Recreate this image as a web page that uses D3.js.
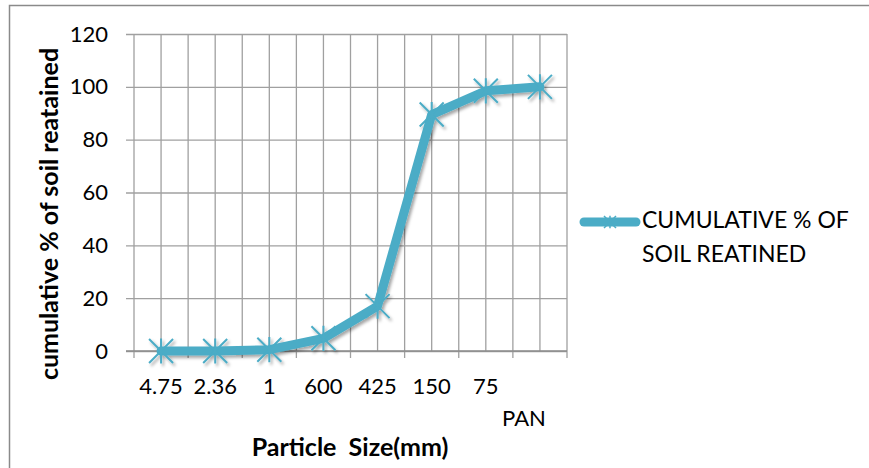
<!DOCTYPE html>
<html>
<head>
<meta charset="utf-8">
<script src="https://cdn.jsdelivr.net/npm/d3@7"></script>
<style>
  html, body { margin: 0; padding: 0; background: #fff; }
  svg { display: block; }
  text { font-family: Lato, Carlito, "Open Sans", sans-serif; fill: #000; }
</style>
</head>
<body>
<svg id="chart" width="869" height="468"></svg>
<script>
// Sieve analysis: cumulative percentage retained per sieve size
const sieveSizes = ["4.75", "2.36", "1", "600", "425", "150", "75", "PAN"];
const cumulativeRetained = [0, 0, 0.5, 4.8, 17, 89.5, 98.5, 100];
const yTicks = [0, 20, 40, 60, 80, 100, 120];
const seriesName = ["CUMULATIVE % OF", "SOIL REATINED"];
const xTitle = "Particle  Size(mm)";
const yTitle = "cumulative % of soil reatained";

const svg = d3.select("#chart");
const color = "#4BACC6";
const gridColor = "#a0a0a0";
const labelSize = "22px";

const plot = { left: 134, right: 567, top: 34, bottom: 351 };

const x = d3.scaleBand().domain(sieveSizes).range([plot.left, plot.right]).padding(0);
const y = d3.scaleLinear().domain([0, 120]).range([plot.bottom, plot.top]);
const cx = d => x(d) + x.bandwidth() / 2;

// drop shadow for the series
const defs = svg.append("defs");
const f = defs.append("filter").attr("id", "shadow")
  .attr("x", "-20%").attr("y", "-20%").attr("width", "140%").attr("height", "140%");
f.append("feDropShadow").attr("dx", 2).attr("dy", 2.5).attr("stdDeviation", 1.6)
  .attr("flood-color", "#000").attr("flood-opacity", 0.35);

// chart area frame (left and top edges)
svg.append("path")
  .attr("d", "M9.5,468 V5.5 H869")
  .attr("fill", "none").attr("stroke", "#8a8a8a").attr("stroke-width", 1.5);

// horizontal gridlines with tick stubs on the value axis
const yAxis = d3.axisLeft(y).tickValues(yTicks)
  .tickSize(-(plot.right - plot.left) - 8).tickPadding(18).tickFormat(d3.format("d"));
const gy = svg.append("g").attr("transform", `translate(${plot.right},0)`).call(yAxis);
gy.select(".domain").remove();
gy.selectAll(".tick line")
  .attr("x1", 0).attr("x2", -(plot.right - plot.left) - 8)
  .attr("stroke", gridColor).attr("stroke-width", 1.3);
gy.selectAll(".tick text")
  .attr("x", -(plot.right - plot.left) - 26)
  .style("font-size", labelSize).style("font-family", "Lato, sans-serif").attr("fill", "#000");

// vertical gridlines at category edges and centres
const gridG = svg.append("g");
const edges = sieveSizes.map(d => x(d)).concat([plot.right]);
const centres = sieveSizes.map(cx);
gridG.selectAll("line.edge").data(edges).join("line")
  .attr("x1", d => d).attr("x2", d => d)
  .attr("y1", plot.top).attr("y2", plot.bottom + 7)
  .attr("stroke", gridColor).attr("stroke-width", 1.3);
gridG.selectAll("line.mid").data(centres).join("line")
  .attr("x1", d => d).attr("x2", d => d)
  .attr("y1", plot.top).attr("y2", plot.bottom)
  .attr("stroke", gridColor).attr("stroke-width", 1.3);

// category axis line
svg.append("line")
  .attr("x1", plot.left - 8).attr("x2", plot.right)
  .attr("y1", y(0)).attr("y2", y(0))
  .attr("stroke", "#8c8c8c").attr("stroke-width", 1.5);

// category labels (the last one sits on a second line)
svg.append("g").selectAll("text").data(sieveSizes).join("text")
  .attr("x", (d, i) => cx(d) + (i === sieveSizes.length - 1 ? -16 : 0))
  .attr("y", (d, i) => i === sieveSizes.length - 1 ? 426 : 394)
  .attr("text-anchor", "middle")
  .style("font-size", labelSize)
  .text(d => d);

// series line and star markers
const series = svg.append("g").attr("filter", "url(#shadow)");
const pts = sieveSizes.map((s, i) => [cx(s), y(cumulativeRetained[i])]);
series.append("path")
  .attr("d", d3.line()(pts))
  .attr("fill", "none").attr("stroke", color)
  .attr("stroke-width", 9).attr("stroke-linejoin", "round").attr("stroke-linecap", "round");

const star = (r) => `M${-r},${-r}L${r},${r}M${-r},${r}L${r},${-r}M0,${-r * 1.05}L0,${r * 1.05}`;
series.selectAll("path.marker").data(pts).join("path")
  .attr("class", "marker")
  .attr("transform", d => `translate(${d[0]},${d[1]})`)
  .attr("d", star(12))
  .attr("fill", "none").attr("stroke", color).attr("stroke-width", 2);

// legend
const lg = svg.append("g");
lg.append("line").attr("x1", 584).attr("x2", 636).attr("y1", 222).attr("y2", 222)
  .attr("stroke", color).attr("stroke-width", 9).attr("stroke-linecap", "round");
lg.append("path").attr("transform", "translate(610,222)").attr("d", star(6))
  .attr("fill", "none").attr("stroke", color).attr("stroke-width", 1.5);
lg.selectAll("text").data(seriesName).join("text")
  .attr("x", 642).attr("y", (d, i) => 228 + i * 34)
  .style("font-size", "23px")
  .text(d => d);

// axis titles
svg.append("text")
  .attr("x", 350).attr("y", 456).attr("text-anchor", "middle")
  .style("font-size", "25px").style("font-weight", "bold")
  .style("white-space", "pre").attr("xml:space", "preserve")
  .text(xTitle);
svg.append("text")
  .attr("transform", "translate(58,214) rotate(-90)")
  .attr("text-anchor", "middle")
  .style("font-size", "25px").style("font-weight", "bold")
  .text(yTitle);
</script>
</body>
</html>
